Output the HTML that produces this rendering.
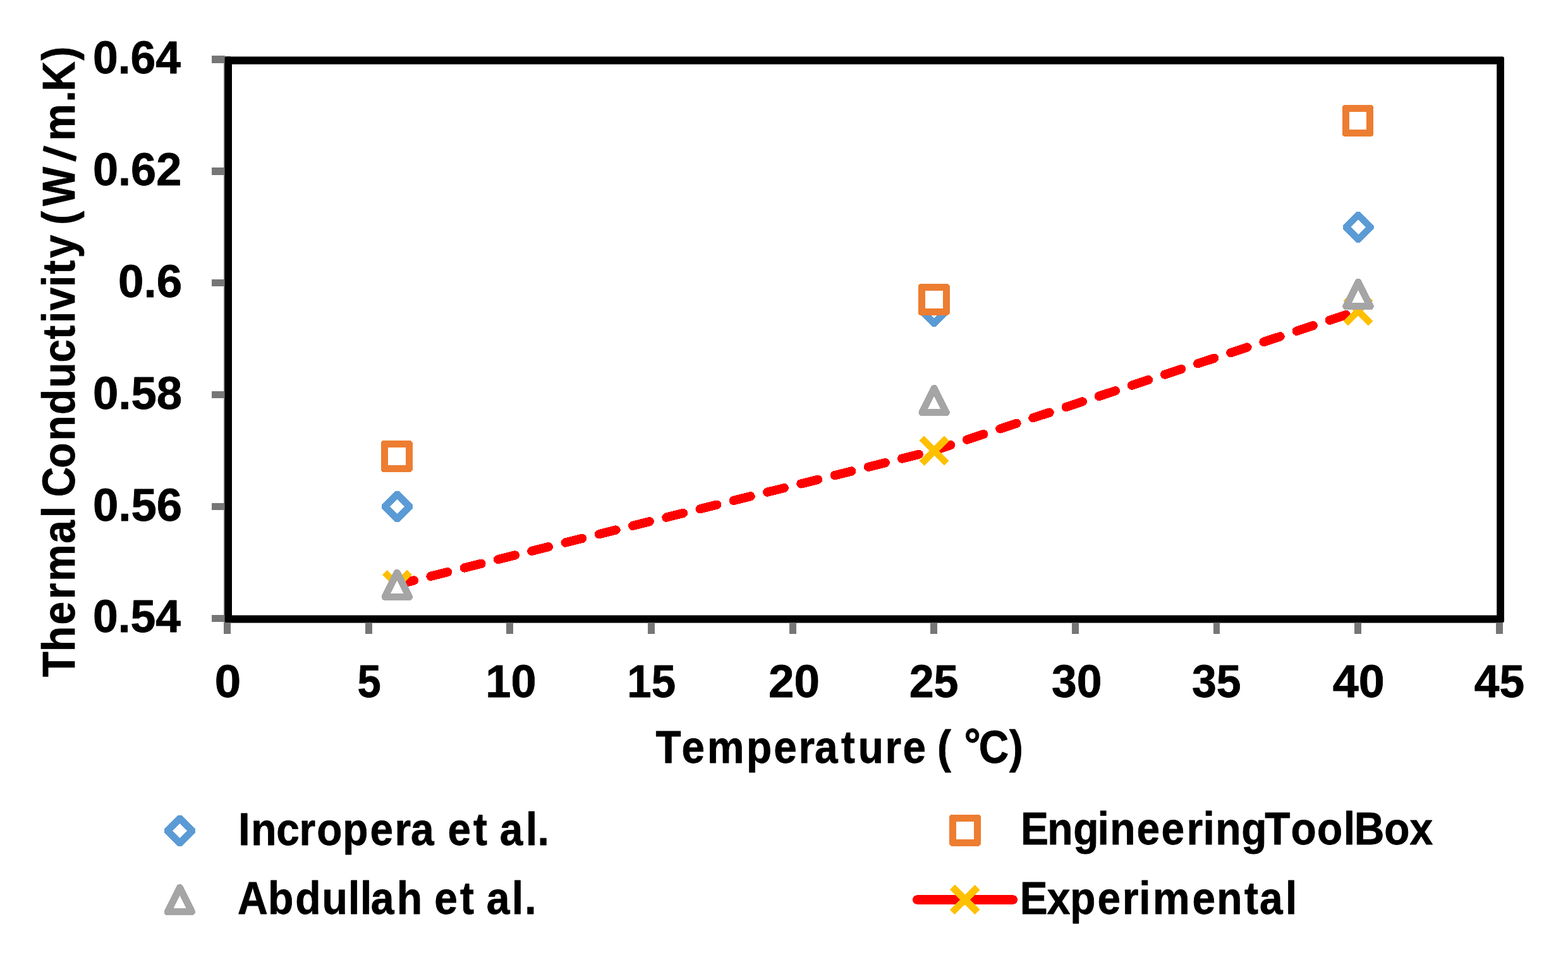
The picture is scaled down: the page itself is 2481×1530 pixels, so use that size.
<!DOCTYPE html>
<html lang="en">
<head>
<meta charset="utf-8">
<title>Thermal Conductivity vs Temperature</title>
<style>
html,body{margin:0;padding:0;background:#fff;}
body{width:2481px;height:1530px;font-family:"Liberation Sans", "DejaVu Sans", sans-serif;}
svg{display:block;width:2481px;height:1530px;}
</style>
</head>
<body>
<svg width="2481" height="1530" viewBox="0 0 2481 1530" role="img" aria-label="Thermal conductivity versus temperature chart">
<rect width="2481" height="1530" fill="#fff"/>
<g fill="#767676" shape-rendering="crispEdges">
<rect x="354.1" y="89" width="11" height="897"/>
<rect x="354.1" y="975" width="2024" height="10.9"/>
<rect x="335.1" y="88.45" width="21" height="11.2"/>
<rect x="335.1" y="265.32" width="21" height="11.2"/>
<rect x="335.1" y="442.19" width="21" height="11.2"/>
<rect x="335.1" y="619.06" width="21" height="11.2"/>
<rect x="335.1" y="795.93" width="21" height="11.2"/>
<rect x="335.1" y="972.80" width="21" height="11.2"/>
<rect x="354.20" y="980" width="10.8" height="23.2"/>
<rect x="577.84" y="980" width="10.8" height="23.2"/>
<rect x="801.48" y="980" width="10.8" height="23.2"/>
<rect x="1025.12" y="980" width="10.8" height="23.2"/>
<rect x="1248.76" y="980" width="10.8" height="23.2"/>
<rect x="1472.40" y="980" width="10.8" height="23.2"/>
<rect x="1696.04" y="980" width="10.8" height="23.2"/>
<rect x="1919.68" y="980" width="10.8" height="23.2"/>
<rect x="2143.32" y="980" width="10.8" height="23.2"/>
<rect x="2366.96" y="980" width="10.8" height="23.2"/>
</g>
<path fill="#000" fill-rule="evenodd" d="M358.4 89.5H2377.2a2.8 2.8 0 0 1 2.8 2.8V982.2a2.8 2.8 0 0 1-2.8 2.8H358.4a2.8 2.8 0 0 1-2.8-2.8V92.3a2.8 2.8 0 0 1 2.8-2.8ZM367 101.8V973.6H2368.2V101.8Z"/>
<g shape-rendering="crispEdges">
<line x1="628.27" y1="925.04" x2="1478.10" y2="712.80" stroke="#FF0000" stroke-width="14.3" stroke-linecap="round" stroke-dasharray="27.45 27.45" stroke-dashoffset="0.0"/>
<line x1="1478.10" y1="712.80" x2="2149.02" y2="491.71" stroke="#FF0000" stroke-width="14.3" stroke-linecap="round" stroke-dasharray="27.45 27.45" stroke-dashoffset="0.0"/>
<path d="M608.67 905.74L647.87 944.94M608.67 944.94L647.87 905.74" stroke="#FFC000" stroke-width="11.2" fill="none"/>
<path d="M1458.50 693.50L1497.70 732.70M1458.50 732.70L1497.70 693.50" stroke="#FFC000" stroke-width="11.2" fill="none"/>
<path d="M2129.42 472.41L2168.62 511.61M2129.42 511.61L2168.62 472.41" stroke="#FFC000" stroke-width="11.2" fill="none"/>
<path fill="#fff" d="M628.27 788.88L615.62 801.53L628.27 814.18L640.92 801.53Z"/><path fill="#5B9BD5" fill-rule="evenodd" d="M625.52 777.03H631.02L652.77 798.78V804.28L631.02 826.03H625.52L603.77 804.28V798.78ZM628.27 789.88L616.62 801.53L628.27 813.18L639.92 801.53Z"/>
<path fill="#fff" d="M1478.10 479.36L1465.45 492.01L1478.10 504.66L1490.75 492.01Z"/><path fill="#5B9BD5" fill-rule="evenodd" d="M1475.35 467.51H1480.85L1502.60 489.26V494.76L1480.85 516.51H1475.35L1453.60 494.76V489.26ZM1478.10 480.36L1466.45 492.01L1478.10 503.66L1489.75 492.01Z"/>
<path fill="#fff" d="M2149.02 346.71L2136.37 359.36L2149.02 372.01L2161.67 359.36Z"/><path fill="#5B9BD5" fill-rule="evenodd" d="M2146.27 334.86H2151.77L2173.52 356.61V362.11L2151.77 383.86H2146.27L2124.52 362.11V356.61ZM2149.02 347.71L2137.37 359.36L2149.02 371.01L2160.67 359.36Z"/>
<rect fill="#fff" x="612.87" y="707.04" width="29.80" height="29.80"/><path fill="#ED7D31" fill-rule="evenodd" d="M605.67 697.04H649.87L652.67 699.84V744.04L649.87 746.84H605.67L602.87 744.04V699.84ZM613.87 708.04V735.84H641.67V708.04Z"/>
<rect fill="#fff" x="1462.70" y="459.42" width="29.80" height="29.80"/><path fill="#ED7D31" fill-rule="evenodd" d="M1455.50 449.42H1499.70L1502.50 452.22V496.42L1499.70 499.22H1455.50L1452.70 496.42V452.22ZM1463.70 460.42V488.22H1491.50V460.42Z"/>
<rect fill="#fff" x="2133.62" y="176.43" width="29.80" height="29.80"/><path fill="#ED7D31" fill-rule="evenodd" d="M2126.42 166.43H2170.62L2173.42 169.23V213.43L2170.62 216.23H2126.42L2123.62 213.43V169.23ZM2134.62 177.43V205.23H2162.42V177.43Z"/>
<path d="M628.27 906.24L647.37 944.44H609.17Z" stroke="#A5A5A5" stroke-width="11.2" stroke-linejoin="round" fill="#fff"/>
<path d="M1478.10 614.40L1497.20 652.60H1459.00Z" stroke="#A5A5A5" stroke-width="11.2" stroke-linejoin="round" fill="#fff"/>
<path d="M2149.02 446.38L2168.12 484.58H2129.92Z" stroke="#A5A5A5" stroke-width="11.2" stroke-linejoin="round" fill="#fff"/>
</g>
<g font-family='"Liberation Sans", "DejaVu Sans", sans-serif' font-weight="700" font-size="72" fill="#000" stroke="#000" stroke-width="0.8" stroke-linejoin="round">
<text transform="translate(146.91 116.05) scale(0.9935 1)">0.64</text>
<text transform="translate(146.90 292.92) scale(1.0015 1)">0.62</text>
<text transform="translate(186.98 469.79) scale(1.0104 1)">0.6</text>
<text transform="translate(146.88 646.66) scale(1.0081 1)">0.58</text>
<text transform="translate(146.88 823.53) scale(1.0081 1)">0.56</text>
<text transform="translate(146.91 1000.40) scale(0.9935 1)">0.54</text>
<text transform="translate(339.83 1103.20) scale(1.0357 1)">0</text>
<text transform="translate(565.44 1103.20) scale(0.9306 1)">5</text>
<text transform="translate(768.29 1103.20) scale(1.0027 1)">10</text>
<text transform="translate(992.36 1103.20) scale(0.9595 1)">15</text>
<text transform="translate(1215.88 1103.20) scale(1.0120 1)">20</text>
<text transform="translate(1438.66 1103.20) scale(0.9724 1)">25</text>
<text transform="translate(1664.01 1103.20) scale(0.9914 1)">30</text>
<text transform="translate(1886.03 1103.20) scale(0.9688 1)">35</text>
<text transform="translate(2108.68 1103.20) scale(1.0237 1)">40</text>
<text transform="translate(2332.81 1103.20) scale(0.9909 1)">45</text>
<text transform="translate(0 1206.60) scale(0.9122 1)" x="1137.27 1182.21 1226.79 1294.75 1342.21 1385.13 1413.05 1459.15 1488.32 1535.26 1565.87 1621.37 1625.62 1666.62 1672.46 1697.82 1750.85" y="0 0 0 0 0 0 0 0 0 0 0 0 0 0 -3.5 0 0">Temperature ( °C)</text>
<text transform="translate(118.10 0) rotate(-90) scale(0.9120 1)" x="-1174.74 -1130.36 -1083.77 -1039.88 -1008.37 -942.79 -898.19 -867.69 -862.20 -812.12 -764.90 -719.34 -673.08 -628.91 -588.58 -560.32 -538.57 -497.85 -475.64 -447.61 -387.86 -390.22 -357.38 -280.41 -244.24 -177.10 -158.44 -104.66" y="0" rotate="0 0 0 0 0 0 0 0 0 0 0 0 0 0 0 0 0 0 0 0 0 0 0 9 0 0 0 0">Thermal Conductivity (W/m.K)</text>
<text transform="translate(0 1336.50) scale(0.9138 1)" x="412.94 434.69 478.51 518.27 548.51 593.32 640.70 683.50 711.36 770.61 775.39 819.75 862.75 865.44 910.41 930.71" y="0">Incropera et al.</text>
<text transform="translate(0 1445.50) scale(0.9182 1)" x="409.58 461.71 508.84 554.86 599.99 620.74 639.10 683.81 739.06 748.45 792.94 835.94 838.32 882.01 904.28" y="0">Abdullah et al.</text>
<text transform="translate(0 1336.30) scale(0.9150 1)" x="1765.14 1811.18 1856.02 1897.85 1919.33 1965.52 2008.09 2052.04 2080.25 2101.90 2146.85 2187.27 2232.24 2277.71 2323.32 2341.81 2393.61 2437.85" y="0">EngineeringToolBox</text>
<text transform="translate(0 1445.50) scale(0.9136 1)" x="1766.28 1813.47 1853.37 1900.68 1943.61 1972.83 1996.41 2064.93 2107.28 2155.28 2181.42 2226.35" y="0">Experimental</text>
</g>
<g shape-rendering="crispEdges">
<path fill="#fff" d="M284.30 1301.85L271.65 1314.50L284.30 1327.15L296.95 1314.50Z"/><path fill="#5B9BD5" fill-rule="evenodd" d="M281.55 1290.00H287.05L308.80 1311.75V1317.25L287.05 1339.00H281.55L259.80 1317.25V1311.75ZM284.30 1302.85L272.65 1314.50L284.30 1326.15L295.95 1314.50Z"/>
<path d="M284.30 1404.50L303.40 1442.70H265.20Z" stroke="#A5A5A5" stroke-width="11.2" stroke-linejoin="round" fill="#fff"/>
<rect fill="#fff" x="1512.10" y="1298.90" width="29.80" height="29.80"/><path fill="#ED7D31" fill-rule="evenodd" d="M1504.90 1288.90H1549.10L1551.90 1291.70V1335.90L1549.10 1338.70H1504.90L1502.10 1335.90V1291.70ZM1513.10 1299.90V1327.70H1540.90V1299.90Z"/>
<path d="M1451 1423.5H1603" stroke="#FF0000" stroke-width="14.3" stroke-linecap="round" fill="none"/>
<path d="M1507.00 1403.90L1546.20 1443.10M1507.00 1443.10L1546.20 1403.90" stroke="#FFC000" stroke-width="11.2" fill="none"/>
</g>
</svg>
</body>
</html>
